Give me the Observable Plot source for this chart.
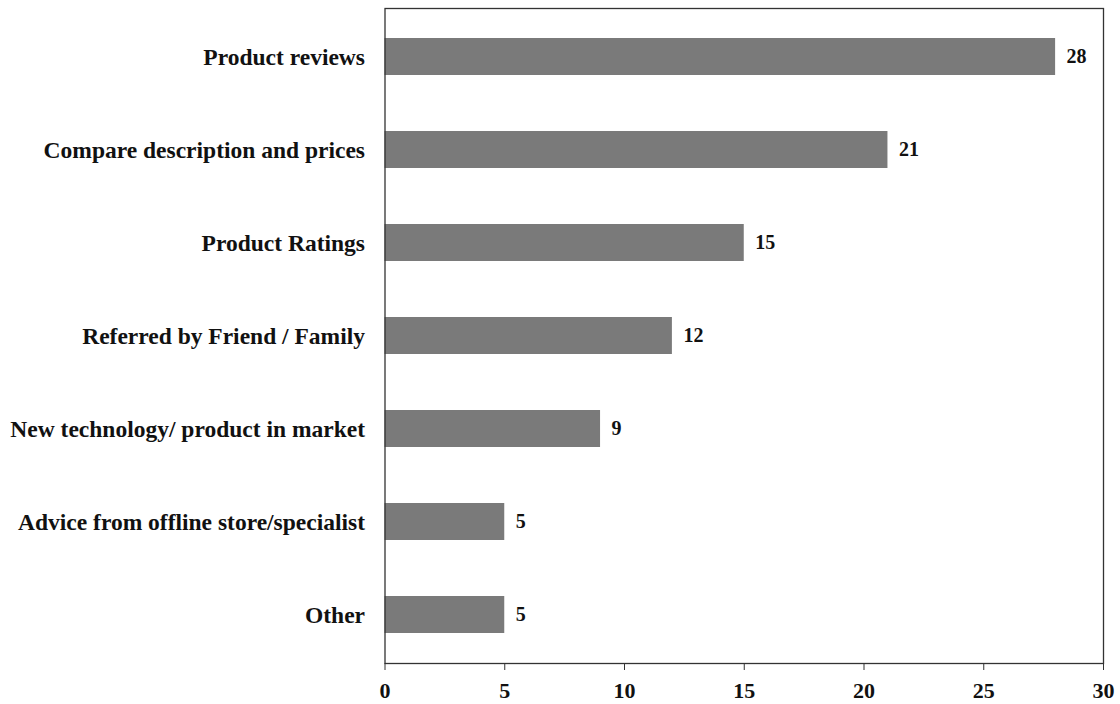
<!DOCTYPE html>
<html>
<head>
<meta charset="utf-8">
<script src="https://cdn.jsdelivr.net/npm/d3@7"></script>
<script src="https://cdn.jsdelivr.net/npm/@observablehq/plot@0.6"></script>
<style>
  html, body { margin: 0; padding: 0; background: #fff; }
  #chart svg { display: block; }
</style>
</head>
<body>
<div id="chart"></div>
<script>
const categories = [
  "Product reviews",
  "Compare description and prices",
  "Product Ratings",
  "Referred by Friend / Family",
  "New technology/ product in market",
  "Advice from offline store/specialist",
  "Other"
];
const values = [28, 21, 15, 12, 9, 5, 5];
const xTicks = [0, 5, 10, 15, 20, 25, 30];

const data = categories.map((c, i) => ({category: c, value: values[i]}));

const chart = Plot.plot({
  width: 1120,
  height: 704,
  marginLeft: 384.5,
  marginRight: 17,
  marginTop: 8,
  marginBottom: 41,
  style: {fontFamily: "'Liberation Serif', 'Times New Roman', serif", fontWeight: "bold", background: "#fff", color: "#111"},
  x: {domain: [0, 30], ticks: xTicks, label: null},
  y: {domain: categories, paddingInner: 0.6, paddingOuter: 0.3, label: null},
  marks: [
    Plot.barX(data, {x: "value", y: "category", fill: "#7a7a7a"}),
    Plot.text(data, {x: "value", y: "category", text: d => String(d.value), textAnchor: "start", dx: 11, fontSize: 20, fontWeight: "bold", fill: "#111"}),
    Plot.frame({stroke: "#333", strokeWidth: 1.3}),
    Plot.axisX({ticks: xTicks, tickSize: 7, tickPadding: 12, fontSize: 22, fontWeight: "bold", label: null, stroke: "#333"}),
    Plot.axisY({tickSize: 0, tickPadding: 20, fontSize: 23.5, fontWeight: "bold", label: null})
  ]
});
document.getElementById("chart").appendChild(chart);
</script>
</body>
</html>
